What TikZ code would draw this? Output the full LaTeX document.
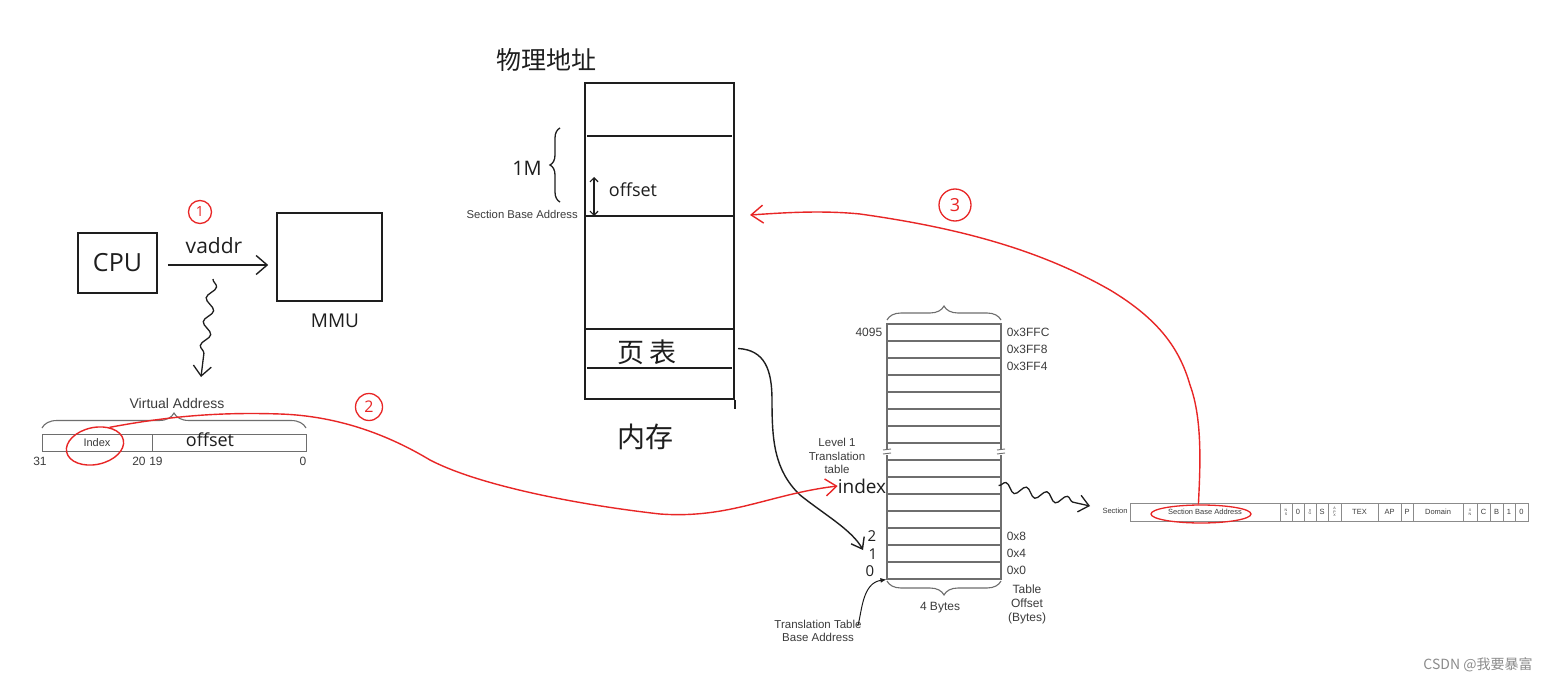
\documentclass[tikz,border=0pt]{standalone}
\usepackage{fontspec}
\setmainfont{Liberation Sans}
\newfontfamily\hand{Open Sans}
\newfontfamily\cjk{Noto Sans CJK SC}
\usetikzlibrary{arrows.meta,decorations.pathmorphing,decorations.pathreplacing,shapes.geometric}
\newcommand{\myfs}[1]{\fontsize{#1}{#1}\selectfont}
\definecolor{rd}{RGB}{232,38,38}
\definecolor{ink}{RGB}{30,30,30}
\definecolor{prn}{RGB}{60,60,60}
\definecolor{gl}{RGB}{110,110,110}
\begin{document}
\begin{tikzpicture}[x=1pt,y=-1pt,
  hl/.style={line width=1.6pt, draw=ink},
  hbox/.style={draw=ink, line width=1.6pt, inner sep=0pt},
  hand/.style={font=\hand\myfs{#1}, text=ink, inner sep=0pt},
  hcjk/.style={font=\cjk\myfs{#1}, text=ink, inner sep=0pt},
  prt/.style={font=\myfs{#1}, text=prn, inner sep=0pt, align=center},
  vcell/.style={draw=gl, line width=1pt, minimum height=17pt, inner sep=0pt, font=\myfs{11}, text=prn},
  trow/.style={draw=gl, line width=1.1pt, minimum width=114pt, minimum height=17pt, inner sep=0pt},
  dcell/.style={draw=gl!80, line width=0.8pt, minimum height=18pt, inner sep=0pt, font=\myfs{7.5}, text=prn, align=center},
  tcell/.style={dcell, font=\myfs{3.6}},
  rcirc/.style={circle, draw=rd, line width=1.3pt, inner sep=0pt, text=rd, font=\hand\myfs{14}},
  rline/.style={draw=rd, line width=1.4pt},
  gbrace/.style={draw=gl, line width=1.1pt, decorate, decoration={brace, amplitude=#1}},
]
\fill[white] (0,0) rectangle (1556,682);
\useasboundingbox (0,0) rectangle (1556,682);

% ---------- CPU / MMU ----------
\node[hbox, minimum width=79pt, minimum height=60pt, font=\hand\myfs{25}, text=ink] (cpu) at (117.5,263) {CPU};
\node[hbox, minimum width=105pt, minimum height=88pt] (mmu) at (329.5,257) {};
\node[hand=19, anchor=north] (mmuL) at (335,314) {MMU};
\coordinate (mmuIn) at (269,265);
\draw[hl, line width=1.4pt, -{Straight Barb[length=11pt, width=19pt]}] ([xshift=10pt]cpu.east |- mmuIn) -- ([xshift=-8pt]mmu.west |- mmuIn);
\node[hand=21] (vaddr) at (214,246) {vaddr};
\node[rcirc, minimum size=23pt] (c1) at (200,212) {1};
\coordinate (sqA) at (213,279);
\coordinate (sqB) at (201,377);
\draw[hl, line width=1.3pt, decorate, decoration={snake, amplitude=4.5pt, segment length=24pt, post length=12pt},
      -{Straight Barb[length=10pt, width=18pt]}] (sqA) -- (sqB);

% ---------- Virtual address ----------
\node[prt=14] (vaT) at (177,403) {Virtual Address};
\coordinate (vbL) at (42,428);
\coordinate (vbR) at (306,428);
\draw[gbrace=15pt] (vbL) -- (vbR);
\node[vcell, minimum width=110pt] (idxc) at (97,442.5) {Index};
\node[vcell, minimum width=154pt] (offc) at (229,442.5) {};
\node[hand=18] (offL) at (210,440) {offset};
\node[prt=12] (b31) at (40,461) {31};
\node[prt=12] (b20) at (139,461) {20};
\node[prt=12] (b19) at (156,461) {19};
\node[prt=12] (b0) at (303,461) {0};
\node[ellipse, draw=rd, line width=1.4pt, minimum width=58pt, minimum height=37pt, rotate=12, inner sep=0pt] (idxring) at (95,446) {};
\node[rcirc, minimum size=27pt, font=\hand\myfs{16}] (c2) at (369,407) {2};

% ---------- Physical memory ----------
\node[hcjk=25] (phyT) at (546,60) {物理地址};
\node[hbox, minimum width=149pt, minimum height=316pt] (mem) at (659.5,241) {};
\coordinate (m1) at (0,136);
\coordinate (m2) at (0,216);
\coordinate (m3) at (0,329);
\coordinate (m4) at (0,368);
\draw[hl] ([xshift=3pt]mem.west |- m1) -- ([xshift=-3pt]mem.east |- m1);
\draw[hl] (mem.west |- m2) -- (mem.east |- m2);
\draw[hl] (mem.west |- m3) -- ([xshift=-2pt]mem.east |- m3);
\draw[hl] ([xshift=3pt]mem.west |- m4) -- ([xshift=-3pt]mem.east |- m4);
\draw[hl] (mem.south east) -- ++(0,9);
\node[minimum width=149pt, minimum height=39pt, inner sep=0pt] (ptrow) at (659.5,348.5) {};
\node[hcjk=27] (ptT) at (647,352) {页\,表};
\node[hcjk=28] (neicun) at (645,437) {内存};
\node[hand=20] (oneM) at (527,168) {1M};
\coordinate (brB) at (560,202);
\coordinate (brT) at (560,128);
\draw[hl, line width=1.3pt, decorate, decoration={brace, amplitude=10pt}] (brB) -- (brT);
\node[prt=11.3, anchor=east] (sbaL) at (578,214) {Section Base Address};
\coordinate (offTop) at (594,177);
\draw[hl, line width=1.2pt, {Straight Barb[length=4pt,width=8pt]}-{Straight Barb[length=4pt,width=8pt]}] (offTop) -- (offTop |- m2);
\node[hand=18] (offM) at (633,190) {offset};

% ---------- Translation table ----------
\foreach \k in {0,...,14} {
  \node[trow] (r\k) at (944,{570.5-17*\k}) {};
}
\fill[white] (884,449) rectangle (890,455);
\fill[white] (998,449) rectangle (1004,455);
\draw[gl, line width=0.9pt] (883,450) -- (891,449) (883,454) -- (891,453);
\draw[gl, line width=0.9pt] (997,450) -- (1005,449) (997,454) -- (1005,453);
\coordinate (tbL) at (887,320);
\coordinate (tbR) at (1001,320);
\draw[gbrace=14pt] (tbL) -- (tbR);
\coordinate (bbL) at (887,581);
\coordinate (bbR) at (1001,581);
\draw[gbrace=14pt] (bbR) -- (bbL);
\node[prt=12, anchor=east] (l4095) at ([xshift=-4pt]r14.west) {4095};
\node[prt=12, anchor=west] (o3ffc) at ([xshift=5pt]r14.east) {0x3FFC};
\node[prt=12, anchor=west] (o3ff8) at ([xshift=5pt]r13.east) {0x3FF8};
\node[prt=12, anchor=west] (o3ff4) at ([xshift=5pt]r12.east) {0x3FF4};
\node[prt=12, anchor=west] (o8) at ([xshift=5pt]r2.east) {0x8};
\node[prt=12, anchor=west] (o4) at ([xshift=5pt]r1.east) {0x4};
\node[prt=12, anchor=west] (o0) at ([xshift=5pt]r0.east) {0x0};
\node[prt=11.5] (lvl) at (837,456) {Level 1\\[2pt]Translation\\[2pt]table};
\node[hand=19] (idxT) at (862,486) {index};
\node[hand=15] (n2) at (872,536) {2};
\node[hand=15] (n1) at (873,554) {1};
\node[hand=15] (n0) at (870,571) {0};
\node[prt=12] (fourB) at (940,608) {4 Bytes};
\node[prt=12] (tofs) at (1027,604) {Table\\[2pt]Offset\\[2pt](Bytes)};
\node[prt=11.5] (ttba) at (818,631) {Translation Table\\[2pt]Base Address};
\draw[ink, line width=1pt, -{Latex[length=6pt, width=5pt]}] ([xshift=-4pt,yshift=-6pt]ttba.north east) .. controls (862,612) and (862,583) .. (r0.south west);

% ---------- Section descriptor ----------
\node[prt=7.5] (secL) at (1115,511) {Section};
\node[dcell, minimum width=150pt] (sba) at (1205,512) {Section Base Address};
\node[tcell, minimum width=12pt] (dns) at (1286,512) {N\\S};
\node[dcell, minimum width=12pt] (dz) at (1298,512) {0};
\node[tcell, minimum width=12pt] (dng) at (1310,512) {n\\G};
\node[dcell, minimum width=12pt] (ds) at (1322,512) {S};
\node[tcell, minimum width=13pt] (dapx) at (1334.5,512) {A\\P\\X};
\node[dcell, minimum width=37pt] (dtex) at (1359.5,512) {TEX};
\node[dcell, minimum width=23pt] (dap) at (1389.5,512) {AP};
\node[dcell, minimum width=12pt] (dp) at (1407,512) {P};
\node[dcell, minimum width=50pt] (ddom) at (1438,512) {Domain};
\node[tcell, minimum width=14pt] (dxn) at (1470,512) {X\\N};
\node[dcell, minimum width=13pt] (dc) at (1483.5,512) {C};
\node[dcell, minimum width=13pt] (db) at (1496.5,512) {B};
\node[dcell, minimum width=12pt] (d1) at (1509,512) {1};
\node[dcell, minimum width=13pt] (d0) at (1521.5,512) {0};
\node[ellipse, draw=rd, line width=1.3pt, minimum width=100pt, minimum height=18pt, inner sep=0pt] (sbaring) at (1201,514) {};

% squiggle from index row to descriptor
\coordinate (sqC) at (1090,506);
\draw[hl, line width=1.3pt, decorate, decoration={snake, amplitude=4.5pt, segment length=21pt, post length=12pt},
      -{Straight Barb[length=10pt, width=17pt]}] ([xshift=-3pt]r5.east) -- (sqC);

% black curve from page table in memory to table base
\coordinate (ptTip) at (863,550);
\draw[hl, line width=1.4pt, -{Straight Barb[length=10pt, width=15pt]}] ([xshift=4pt]ptrow.east)
   .. controls (765,350) and (772,370) .. (772,400)
   .. controls (772,440) and (774,470) .. (800,495)
   .. controls (825,515) and (852,530) .. (ptTip);

% ---------- red arrows ----------
\draw[rline, -{Straight Barb[length=11pt, width=17pt]}] (idxring.40)
   .. controls (170,416) and (220,412) .. (280,414)
   .. controls (340,416) and (390,436) .. (430,460)
   .. controls (480,486) and (580,505) .. (660,514)
   .. controls (730,519) and (770,494) .. (idxT.west);
\node[rcirc, minimum size=32pt, font=\hand\myfs{18}] (c3) at (955,205) {3};
\coordinate (memTip) at (750,215);
\draw[rline, -{Straight Barb[length=12pt, width=18pt]}] (sbaring.105)
   .. controls (1200,470) and (1203,420) .. (1190,385)
   .. controls (1180,350) and (1160,320) .. (1110,290)
   .. controls (1040,250) and (960,228) .. (860,214)
   .. controls (820,210) and (780,213) .. (memTip);

% ---------- watermark ----------
\node[font=\cjk\myfs{14}, text=black!45, inner sep=0pt] (wm) at (1478,665) {CSDN @我要暴富};
\end{tikzpicture}
\end{document}
